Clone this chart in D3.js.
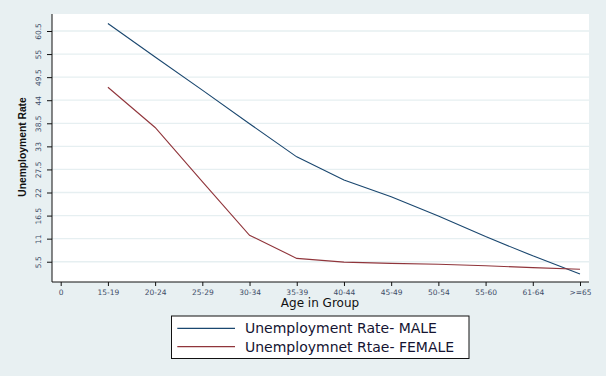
<!DOCTYPE html>
<html>
<head>
<meta charset="utf-8">
<script src="https://cdn.jsdelivr.net/npm/d3@7"></script>
<style>
  html, body { margin: 0; padding: 0; background: #e8f0f2; }
  svg { display: block; }
</style>
</head>
<body>
<svg id="chart" width="606" height="376"></svg>
<script>
// ---- data ----
const ageGroups = ["0", "15-19", "20-24", "25-29", "30-34", "35-39", "40-44", "45-49", "50-54", "55-60", "61-64", ">=65"];
const maleRate = [null, 62.3, 54.3, 46.4, 38.4, 30.5, 25.0, 21.0, 16.4, 11.5, 6.9, 2.6];
const femaleRate = [null, 47.1, 37.5, 24.6, 11.8, 6.3, 5.4, 5.1, 4.9, 4.55, 4.1, 3.7];
const yTicks = [5.5, 11, 16.5, 22, 27.5, 33, 38.5, 44, 49.5, 55, 60.5];
const seriesNames = ["Unemployment Rate- MALE", "Unemploymnet Rtae- FEMALE"];
const seriesColors = ["#1a476f", "#90353b"];

const svg = d3.select("#chart");
const plot = { left: 52, right: 589, top: 14, bottom: 282 };

// scales
const x = d3.scalePoint()
    .domain(ageGroups)
    .range([60.7, 580]);

const y = d3.scaleLinear()
    .domain([0, 60.5])
    .range([284.8, 31]);

// plot region
svg.append("rect")
    .attr("x", plot.left)
    .attr("y", plot.top)
    .attr("width", plot.right - plot.left)
    .attr("height", plot.bottom - plot.top)
    .attr("fill", "#ffffff");

// gridlines
svg.append("g")
    .selectAll("line")
    .data(yTicks)
    .join("line")
    .attr("x1", plot.left)
    .attr("x2", plot.right)
    .attr("y1", d => y(d))
    .attr("y2", d => y(d))
    .attr("stroke", "#e6eff1")
    .attr("stroke-width", 1.3);

// y axis
const yAxis = svg.append("g")
    .attr("transform", `translate(${plot.left},0)`)
    .call(d3.axisLeft(y).tickValues(yTicks).tickSize(5).tickSizeOuter(0).tickFormat(d => d));
yAxis.select(".domain").remove();
yAxis.append("line")
    .attr("x1", 0).attr("x2", 0)
    .attr("y1", plot.top).attr("y2", plot.bottom)
    .attr("stroke", "#111");
yAxis.selectAll(".tick line").attr("stroke", "#111");
yAxis.selectAll(".tick text")
    .attr("x", null).attr("dy", null)
    .attr("transform", "translate(-11,0) rotate(-90)")
    .attr("text-anchor", "middle")
    .attr("font-family", "DejaVu Sans")
    .attr("font-size", 7.5)
    .attr("fill", "#3e4d68");

// x axis
const xAxis = svg.append("g")
    .attr("transform", `translate(0,${plot.bottom})`)
    .call(d3.axisBottom(x).tickSize(4).tickSizeOuter(0));
xAxis.select(".domain").remove();
xAxis.append("line")
    .attr("x1", plot.left).attr("x2", plot.right)
    .attr("y1", 0).attr("y2", 0)
    .attr("stroke", "#111");
xAxis.selectAll(".tick line").attr("stroke", "#111");
xAxis.selectAll(".tick text")
    .attr("y", 7.5)
    .attr("font-family", "DejaVu Sans")
    .attr("font-size", 7.5)
    .attr("fill", "#3e4d68");

// lines
const line = d3.line()
    .defined(d => d.v != null)
    .x(d => x(d.k))
    .y(d => y(d.v));

[maleRate, femaleRate].forEach((vals, i) => {
    svg.append("path")
        .datum(ageGroups.map((k, j) => ({ k, v: vals[j] })))
        .attr("fill", "none")
        .attr("stroke", seriesColors[i])
        .attr("stroke-width", 1.1)
        .attr("d", line);
});

// axis titles
svg.append("text")
    .attr("x", 320)
    .attr("y", 306.5)
    .attr("text-anchor", "middle")
    .attr("font-family", "DejaVu Sans")
    .attr("font-size", 12)
    .attr("fill", "#111")
    .text("Age in Group");

svg.append("text")
    .attr("transform", "translate(26,147) rotate(-90)")
    .attr("text-anchor", "middle")
    .attr("font-family", "Liberation Sans")
    .attr("font-weight", "bold")
    .attr("font-size", 10.3)
    .attr("fill", "#111")
    .text("Unemployment Rate");

// legend
const legend = svg.append("g");
legend.append("rect")
    .attr("x", 171.5)
    .attr("y", 316)
    .attr("width", 297.5)
    .attr("height", 42.5)
    .attr("fill", "#ffffff")
    .attr("stroke", "#111")
    .attr("stroke-width", 1);

seriesNames.forEach((name, i) => {
    const g = legend.append("g").attr("transform", `translate(0, ${i * 18.4})`);
    g.append("line")
        .attr("x1", 177.3).attr("x2", 235)
        .attr("y1", 328.3).attr("y2", 328.3)
        .attr("stroke", seriesColors[i])
        .attr("stroke-width", 1.3);
    g.append("text")
        .attr("x", 245)
        .attr("y", 333.3)
        .attr("font-family", "DejaVu Sans")
        .attr("font-size", 14)
        .attr("fill", "#141432")
        .text(name);
});
</script>
</body>
</html>
